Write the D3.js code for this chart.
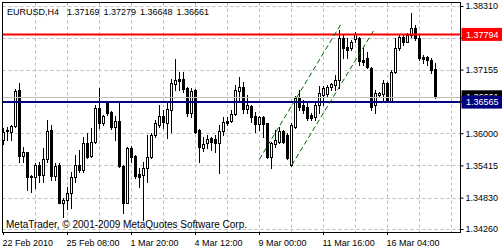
<!DOCTYPE html>
<html>
<head>
<meta charset="utf-8">
<script src="https://cdn.jsdelivr.net/npm/d3@7"></script>
<style>
body { margin: 0; background: #fff; }
svg { display: block; }
</style>
</head>
<body>
<div id="container"></div>
<script>
const symbol = "EURUSD,H4";
const copyright = "MetaTrader, \u00a9 2001-2009 MetaQuotes Software Corp.";

// H4 candles, oldest first
const opens = [
1.35876,1.36049,1.36027,1.36131,1.36785,1.35591,1.35653,1.35228,1.35210,1.35422,
1.35241,1.35526,1.36058,1.35223,1.35422,1.34738,1.34787,1.34919,1.35210,1.35422,
1.35332,1.35816,1.35586,1.35846,1.36452,1.36180,1.36543,1.36390,1.36107,1.36227,
1.35404,1.34738,1.35737,1.35586,1.35259,1.35241,1.35363,1.35573,1.35967,1.36149,
1.36312,1.36191,1.36421,1.36894,1.36984,1.36984,1.36815,1.36361,1.36785,1.36058,
1.35726,1.35816,1.35907,1.35889,1.35816,1.36045,1.36222,1.36227,1.36349,1.36772,
1.36834,1.36440,1.36500,1.36312,1.36162,1.36300,1.36180,1.35573,1.35804,1.35846,
1.36040,1.35967,1.35422,1.36118,1.36634,1.36512,1.36481,1.36330,1.36300,1.36512,
1.36694,1.36712,1.36834,1.36875,1.36966,1.37723,1.37571,1.37553,1.37705,1.37723,
1.37329,1.37371,1.37179,1.36512,1.36694,1.36706,1.36906,1.36572,1.37117,1.37542,
1.37752,1.37662,1.37783,1.37916,1.37734,1.37389,1.37389,1.37329,1.37169];
const highs = [
1.36089,1.36107,1.36149,1.36797,1.36906,1.35755,1.35659,1.35241,1.35453,1.35482,
1.35726,1.36240,1.36149,1.35453,1.35453,1.34818,1.35028,1.35301,1.35604,1.35695,
1.35936,1.35998,1.36089,1.36512,1.36815,1.36330,1.36590,1.36409,1.36312,1.36572,
1.35422,1.35755,1.35767,1.35604,1.35363,1.35482,1.35967,1.35998,1.36240,1.36512,
1.36421,1.36543,1.36979,1.37348,1.37117,1.37117,1.36844,1.36815,1.36797,1.36071,
1.35936,1.35967,1.35936,1.35967,1.36149,1.36289,1.36300,1.36421,1.36875,1.37026,
1.36935,1.36694,1.36512,1.36390,1.36312,1.36312,1.36191,1.35846,1.36058,1.36118,
1.36058,1.35998,1.36185,1.36676,1.36785,1.36603,1.36543,1.36361,1.36543,1.36857,
1.36857,1.36875,1.36917,1.37057,1.37874,1.37783,1.37723,1.37693,1.37832,1.37752,
1.37542,1.37480,1.37208,1.36785,1.36748,1.36966,1.36935,1.37148,1.37723,1.37783,
1.37783,1.37814,1.38177,1.37965,1.37783,1.37420,1.37407,1.37360,1.37279];
const lows = [
1.35804,1.35876,1.35876,1.36113,1.35482,1.35482,1.34968,1.34937,1.34999,1.35119,
1.35119,1.35482,1.35150,1.35150,1.34727,1.34483,1.34618,1.34636,1.35119,1.35301,
1.35301,1.35544,1.35573,1.35816,1.36089,1.36149,1.36330,1.36071,1.35876,1.35392,
1.34556,1.34727,1.35482,1.35181,1.35028,1.34424,1.35119,1.35544,1.35936,1.36107,
1.36095,1.35907,1.36027,1.36785,1.36785,1.36754,1.36312,1.36300,1.35998,1.35482,
1.35682,1.35726,1.35695,1.35664,1.35272,1.35967,1.36149,1.36209,1.36330,1.36603,
1.36367,1.36361,1.36203,1.36027,1.36058,1.35936,1.35544,1.35363,1.35755,1.35816,
1.35816,1.35526,1.35413,1.36095,1.36421,1.36361,1.36240,1.36240,1.36240,1.36361,
1.36512,1.36663,1.36785,1.36785,1.36815,1.37360,1.37366,1.37511,1.37662,1.37239,
1.37239,1.37179,1.36421,1.36361,1.36676,1.36572,1.36567,1.36567,1.37093,1.37511,
1.37602,1.37651,1.37752,1.37693,1.37329,1.37269,1.37239,1.37088,1.36648];
const closes = [
1.36027,1.36067,1.36131,1.36772,1.35586,1.35653,1.35210,1.35210,1.35422,1.35241,
1.35532,1.36040,1.35223,1.35404,1.34738,1.34787,1.34919,1.35210,1.35422,1.35332,
1.35816,1.35573,1.35846,1.36452,1.36180,1.36312,1.36361,1.36107,1.36227,1.35404,
1.34738,1.35726,1.35573,1.35223,1.35210,1.35373,1.35573,1.35967,1.36180,1.36312,
1.36209,1.36435,1.36906,1.36966,1.36953,1.36797,1.36361,1.36772,1.36027,1.35744,
1.35804,1.35889,1.35846,1.35816,1.36045,1.36209,1.36180,1.36349,1.36785,1.36834,
1.36440,1.36512,1.36300,1.36167,1.36300,1.36162,1.35573,1.35816,1.35876,1.36040,
1.35846,1.35544,1.36149,1.36634,1.36481,1.36421,1.36271,1.36271,1.36512,1.36725,
1.36815,1.36834,1.36894,1.36966,1.37723,1.37542,1.37511,1.37662,1.37796,1.37311,
1.37288,1.37208,1.36481,1.36725,1.36725,1.36906,1.36572,1.37117,1.37542,1.37752,
1.37651,1.37783,1.37916,1.37723,1.37360,1.37348,1.37329,1.37148,1.36661];

const timeLabels = ["22 Feb 2010", "25 Feb 08:00", "1 Mar 20:00", "4 Mar 12:00", "9 Mar 00:00", "11 Mar 16:00", "16 Mar 04:00"];
const timeLabelBars = [0, 16, 32, 48, 64, 80, 96];
const priceTicks = [1.38310, 1.37735, 1.37155, 1.36580, 1.36000, 1.35415, 1.34830, 1.34260];
// these two sit under the level labels, so only their grid line shows
const hiddenTicks = [1.37735, 1.36580];

const resistance = 1.37794;
const support = 1.36565;
// two parallel trend lines: [bar, price] endpoints
const channelBars = [[64.1, 84.7], [72.2, 93.0]];
const channelPrices = [[1.35526, 1.38007], [1.35422, 1.37905]];

const width = 503, height = 250;
const frame = {left: 2.5, right: 460.5, top: 2.5, bottom: 232.5};
const font = "'Liberation Sans', Arial, sans-serif";

const svg = d3.select("#container").append("svg")
    .attr("width", width).attr("height", height)
    .attr("viewBox", `0 0 ${width} ${height}`);

const x = d3.scaleLinear().domain([0, 108]).range([3, 435]);
const y = d3.scaleLinear().domain([1.34260, 1.38310]).range([229, 6]);
const px = v => Math.round(v) + 0.5;

// grid
const grid = svg.append("g").attr("stroke", "#b8b8b8").attr("stroke-dasharray", "3,3");
grid.selectAll("line.h").data(priceTicks).enter().append("line")
    .attr("x1", frame.left).attr("x2", frame.right)
    .attr("y1", d => px(y(d))).attr("y2", d => px(y(d)));
grid.selectAll("line.v").data(d3.range(8, 113, 8)).enter().append("line")
    .attr("y1", frame.top).attr("y2", frame.bottom)
    .attr("x1", d => px(x(d))).attr("x2", d => px(x(d)));

// candles
const bars = d3.range(opens.length).map(i => ({i: i, o: opens[i], h: highs[i], l: lows[i], c: closes[i]}));
const cg = svg.append("g");
bars.forEach(d => {
    const cx = Math.round(x(d.i));
    cg.append("line")
        .attr("x1", cx + 0.5).attr("x2", cx + 0.5)
        .attr("y1", Math.round(y(d.h))).attr("y2", Math.round(y(d.l)) + 1)
        .attr("stroke", "#000");
    const top = Math.round(y(Math.max(d.o, d.c)));
    const bot = Math.round(y(Math.min(d.o, d.c)));
    if (d.c > d.o) {
        cg.append("rect")
            .attr("x", cx - 0.5).attr("y", top + 0.5)
            .attr("width", 2).attr("height", Math.max(bot - top, 1))
            .attr("fill", "#fff").attr("stroke", "#000");
    } else {
        cg.append("rect")
            .attr("x", cx - 1).attr("y", top)
            .attr("width", 3).attr("height", Math.max(bot - top, 1) + 1)
            .attr("fill", "#000");
    }
});

// bid line
const bid = closes[closes.length - 1];
svg.append("line")
    .attr("x1", frame.left).attr("x2", frame.right)
    .attr("y1", px(y(bid))).attr("y2", px(y(bid)))
    .attr("stroke", "#c0c0c0");

// horizontal levels
svg.append("line")
    .attr("x1", frame.left).attr("x2", frame.right)
    .attr("y1", y(resistance)).attr("y2", y(resistance))
    .attr("stroke", "#ff0000").attr("stroke-width", 2);
svg.append("line")
    .attr("x1", frame.left).attr("x2", frame.right)
    .attr("y1", y(support)).attr("y2", y(support))
    .attr("stroke", "#000080").attr("stroke-width", 2);

// channel
svg.append("g").selectAll("line").data(channelBars).enter().append("line")
    .attr("x1", (d, i) => x(d[0])).attr("x2", (d, i) => x(d[1]))
    .attr("y1", (d, i) => y(channelPrices[i][0])).attr("y2", (d, i) => y(channelPrices[i][1]))
    .attr("stroke", "#006400").attr("stroke-dasharray", "5,3");

// frame
svg.append("rect")
    .attr("x", frame.left).attr("y", frame.top)
    .attr("width", frame.right - frame.left).attr("height", frame.bottom - frame.top)
    .attr("fill", "none").attr("stroke", "#000");

// axes
const fmt = d3.format(".5f");
const yAxis = d3.axisRight(y).tickValues(priceTicks)
    .tickFormat(d => hiddenTicks.includes(d) ? "" : fmt(d))
    .tickSize(3).tickPadding(2);
const ya = svg.append("g").attr("transform", `translate(${frame.right},0)`).call(yAxis);
ya.select(".domain").remove();
ya.selectAll("text").style("font-family", font).style("font-size", "9px").attr("fill", "#000");

const xAxis = d3.axisBottom(x).tickValues(timeLabelBars)
    .tickFormat((d, i) => timeLabels[i]).tickSize(3).tickPadding(4.6);
const xa = svg.append("g").attr("transform", `translate(0,${frame.bottom - 0.5})`).call(xAxis);
xa.select(".domain").remove();
xa.selectAll("text").style("font-family", font).style("font-size", "9px")
    .attr("text-anchor", "start").attr("x", -1).attr("fill", "#000");

// price labels on the right
function priceBox(p, color) {
    svg.append("rect")
        .attr("x", frame.right + 1).attr("y", y(p) - 6.5)
        .attr("width", width - frame.right - 2).attr("height", 13)
        .attr("fill", color);
    svg.append("text")
        .attr("x", frame.right + 5.5).attr("y", y(p) + 3.3)
        .style("font-family", font).style("font-size", "9px")
        .attr("fill", "#fff")
        .text(p.toFixed(5));
}
priceBox(bid, "#000");
priceBox(resistance, "#ff0000");
priceBox(support, "#000080");

// title with last bar OHLC
svg.append("text")
    .attr("x", 7).attr("y", 15)
    .style("font-family", font).style("font-size", "9px")
    .text(symbol);
const last = bars[bars.length - 1];
svg.append("g").selectAll("text").data([last.o, last.h, last.l, last.c]).enter().append("text")
    .attr("x", (d, i) => 67 + i * 36.5).attr("y", 15)
    .style("font-family", font).style("font-size", "9px")
    .text(d => d.toFixed(5));

svg.append("text")
    .attr("x", 6).attr("y", 228)
    .style("font-family", font).style("font-size", "10px")
    .text(copyright);
</script>
</body>
</html>
